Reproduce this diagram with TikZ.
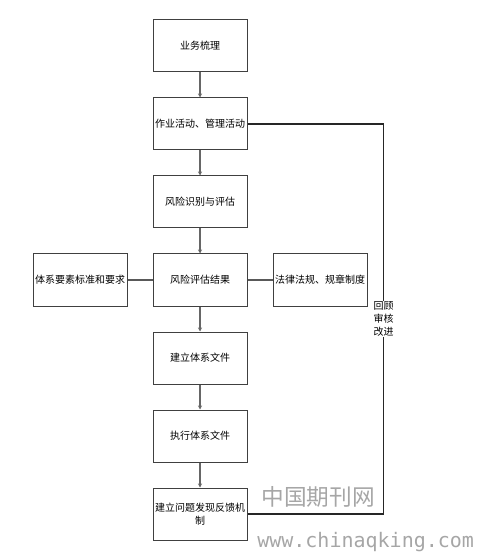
\documentclass[tikz,border=0pt]{standalone}
\usepackage{fontspec}
\newfontfamily\cjk{Noto Sans CJK SC}
\newfontfamily\wmmono{DejaVu Sans Mono}
\usepackage{xcolor}
\usetikzlibrary{positioning,arrows.meta}

\begin{document}
\begin{tikzpicture}[
    x=0.75pt, y=-0.75pt,
    font=\cjk\fontsize{7.5}{10}\selectfont,
    node distance=18.75pt,
    block/.style={
        draw=black!75,
        line width=0.75pt,
        minimum width=70.5pt,
        minimum height=39pt,
        inner sep=1pt,
        align=center,
        fill=white
    },
    arrow/.style={-{Stealth[length=3pt,width=3pt]}, line width=1.3pt, draw=black!60},
    link/.style={line width=1.1pt, draw=black!65},
    fbline/.style={line width=0.8pt, draw=black!85},
    note/.style={align=center, inner sep=1pt, fill=white, font=\cjk\fontsize{7.5}{9.5}\selectfont},
    watermark/.style={text=black!35}
]
\path[use as bounding box] (0,0) rectangle (486,555);

\node[block] at (200,46) (sort) {业务梳理};
\node[block, below=of sort] (act) {作业活动、管理活动};
\node[block, below=of act] (ident) {风险识别与评估};
\node[block, below=of ident] (result) {风险评估结果};
\node[block, left=of result] (std) {体系要素标准和要求};
\node[block, right=of result] (law) {法律法规、规章制度};
\node[block, below=of result] (docs) {建立体系文件};
\node[block, below=of docs] (exec) {执行体系文件};
\node[block, below=of exec] (fb) {建立问题发现反馈机\\制};

\draw[arrow] (sort) -- (act);
\draw[arrow] (act) -- (ident);
\draw[arrow] (ident) -- (result);
\draw[arrow] (result) -- (docs);
\draw[arrow] (docs) -- (exec);
\draw[arrow] (exec) -- (fb);

\draw[link] (std) -- (result);
\draw[link] (law) -- (result);

% feedback loop
\coordinate[right=102pt of act.east] (top);
\coordinate (bot) at (top |- fb.east);
\draw[fbline] (fb.east) -- (bot)
    -- node[note] (review) {回顾\\审核\\改进} (top) -- (act.east);

% watermark
\node[watermark, font=\cjk\fontsize{17}{17}\selectfont, anchor=center] (wm1) at (318,497) {中国期刊网};
\node[watermark, font=\wmmono\fontsize{15}{15}\selectfont, anchor=base west, inner sep=0pt] (wm2) at (257,547) {www.chinaqking.com};

\end{tikzpicture}
\end{document}
